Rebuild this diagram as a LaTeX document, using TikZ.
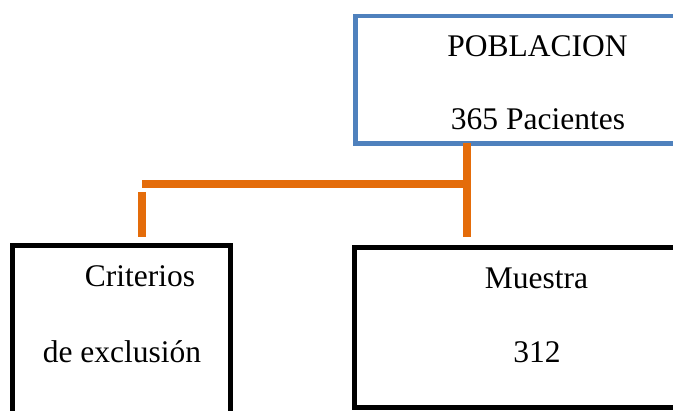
\documentclass[tikz,border=0pt]{standalone}
\usepackage{fontspec}
\setmainfont{Liberation Serif}
\definecolor{boxblue}{RGB}{79,129,189}
\definecolor{linkorange}{RGB}{228,108,10}
\begin{document}
\begin{tikzpicture}[x=1pt,y=-1pt,
  bluebox/.style={draw=boxblue,line width=4.5pt,rectangle,inner sep=0pt},
  blackbox/.style={draw=black,line width=5pt,rectangle,inner sep=0pt},
  label/.style={anchor=base,inner sep=0pt,font=\fontsize{31.5}{38}\selectfont},
  link/.style={draw=linkorange,line width=7.5pt}]
\useasboundingbox (0,0) rectangle (673,411);
\clip (0,0) rectangle (673,411);
\node[bluebox,minimum width=363.5pt,minimum height=127.5pt] (pob) at (537.25,79.75) {};
\node[blackbox,minimum width=366pt,minimum height=160pt] (mue) at (537,327.5) {};
\node[blackbox,minimum width=218pt,minimum height=175pt] (cri) at (121.5,333) {};
\node[label] (t1) at (537.5,57) {POBLACION};
\node[label] (t2) at (538,130) {365 Pacientes};
\node[label] (t3) at (140,287) {Criterios};
\node[label] (t4) at (122,363) {de exclusión};
\node[label] (t5) at (536.5,289) {Muestra};
\node[label] (t6) at (537,363) {312};
\coordinate (a1) at (467,143.5);
\coordinate (a2) at (467,237);
\coordinate (hj) at (467,184);
\coordinate (hl) at (142,184);
\coordinate (s1) at (142,192);
\coordinate (s2) at (142,237);
\draw[link] (a1) -- (a2);
\draw[link] (hl) -- (hj);
\draw[link] (s1) -- (s2);
\end{tikzpicture}
\end{document}
